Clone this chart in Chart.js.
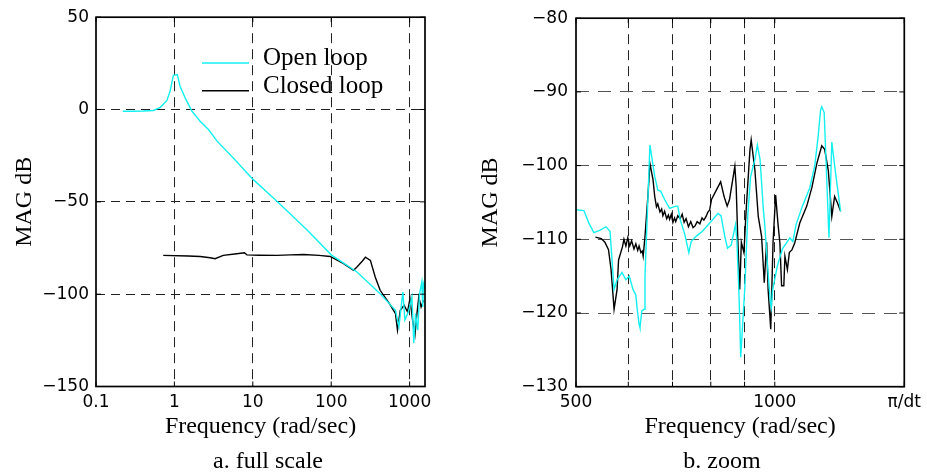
<!DOCTYPE html>
<html>
<head>
<meta charset="utf-8">
<title>Open / closed loop magnitude</title>
<script src="https://cdn.jsdelivr.net/npm/chart.js@4/dist/chart.umd.min.js"></script>
<style>
    body { margin: 0; background: #fff; }
    .panel { position: absolute; top: 0; height: 476px; }
    #left { left: 0; width: 450px; }
    #right { left: 450px; width: 477px; }
</style>
</head>
<body>
<div class="panel" id="left"><canvas id="fullChart"></canvas></div>
<div class="panel" id="right"><canvas id="zoomChart"></canvas></div>
<script>
// sample time 0.002 s -> Nyquist at pi/dt rad/sec
const PI_DT = Math.PI / 0.002;

// a. full scale
const fullOpenFreq = [0.22, 0.3, 0.4, 0.54, 0.66, 0.8, 0.88, 0.97, 1.09, 1.18, 1.37, 1.67, 2.13, 2.72, 3.48, 6, 10, 20, 50, 100, 213, 421, 628, 660, 730, 820, 870, 980, 1070, 1130, 1190, 1270, 1340, 1430, 1470, 1500, 1560];
const fullOpenMag = [-0.9, -0.9, -0.8, -0.5, 1.2, 4.8, 9.9, 18.5, 18.9, 12.6, 6.3, -0.9, -6.3, -10.8, -17, -27.5, -37.7, -49.4, -65.5, -78.7, -88, -99.7, -107.8, -108.7, -117.7, -98.8, -114, -108.7, -101.5, -126.6, -110.5, -119.5, -99.7, -93.4, -106.9, -94.3, -97];
const fullClosedFreq = [0.72, 1.5, 2.13, 2.86, 3.3, 4.2, 6.25, 7.8, 8.4, 12, 20.3, 30, 44.5, 70, 97, 144, 193, 213, 250, 273, 316, 364, 421, 550, 660, 700, 760, 850, 940, 1010, 1090, 1170, 1240, 1310, 1400, 1500];
const fullClosedMag = [-79, -79.3, -79.6, -80.3, -80.8, -79, -78.1, -77.6, -78.7, -78.9, -79, -78.7, -78.5, -79, -79.6, -83.5, -87.1, -85.3, -82, -80, -81.7, -90.7, -97.9, -105, -110.5, -119.5, -108.7, -106, -109.6, -102.4, -114, -122, -110.5, -101.5, -106.9, -103.3];

// b. zoom
const zoomOpenFreq = [500, 514, 523, 532, 543, 555, 563, 571, 577, 587, 595, 602, 610, 616, 619, 623, 625, 629, 634, 636, 647, 658, 665, 672, 681, 693, 708, 713, 719, 731, 741, 747, 760, 777, 797, 820, 829, 840, 848, 859, 872, 876, 883, 888, 901, 910, 919, 933, 941, 950, 961, 966, 976, 985, 988, 992, 1009, 1027, 1054, 1065, 1077, 1101, 1130, 1150, 1163, 1173, 1178, 1188, 1208, 1220, 1238, 1258];
const zoomOpenMag = [-106, -106.1, -107.8, -109.1, -108.8, -108.3, -108.9, -116.8, -115.5, -114.5, -115.5, -115, -116.8, -117.6, -119.5, -121.5, -122, -119.7, -119.5, -115, -97.2, -101.5, -103.3, -103.5, -104.6, -105.8, -105.5, -105.5, -107.3, -109.4, -111.8, -110.3, -109.6, -108.9, -107.8, -106.5, -106.8, -109.6, -111.2, -110.8, -108, -110, -118, -126, -116.4, -106.9, -101.5, -99.2, -97.2, -99.2, -106, -108.2, -114.1, -118.6, -119.3, -117, -113.6, -111.3, -109.8, -110.3, -108, -105.5, -103, -99.9, -96.1, -92.5, -92, -92.8, -109.8, -96.8, -101.5, -106.2];
const zoomClosedFreq = [535, 546, 553, 560, 565, 571, 577, 580, 588, 591, 595, 599, 603, 607, 612, 616, 620, 623, 627, 630, 632, 636, 643, 647, 654, 658, 662, 665, 670, 674, 677, 681, 686, 690, 693, 697, 701, 705, 708, 713, 719, 724, 729, 734, 740, 746, 752, 757, 763, 770, 776, 781, 787, 792, 797, 802, 816, 828, 838, 847, 854, 870, 874, 879, 885, 890, 898, 905, 917, 921, 933, 944, 955, 964, 972, 977, 983, 986, 994, 1003, 1011, 1018, 1024, 1032, 1036, 1045, 1052, 1062, 1072, 1091, 1118, 1138, 1158, 1178, 1190, 1205, 1220, 1232, 1245, 1258];
const zoomClosedMag = [-109.7, -109.9, -110.4, -111.4, -114.1, -119.5, -116.8, -112.8, -111, -110, -110.9, -109.8, -110.9, -110.2, -111.3, -110.6, -111.5, -110.9, -111.8, -111.6, -112.3, -109.6, -103.7, -99.7, -101.9, -104.2, -105.6, -105.2, -106.3, -105.9, -106.8, -106.2, -107.2, -106.7, -107.3, -106.6, -107.7, -107.1, -107.6, -106.8, -107.2, -106.6, -107.7, -107.2, -108.3, -107.6, -108.4, -108.2, -107.6, -107.9, -107.1, -107.4, -106.9, -106.3, -106, -104.6, -103.3, -102.2, -104.2, -105.5, -104.6, -100.1, -102.8, -110, -116.8, -110.4, -111.8, -106, -97.9, -96.5, -100.6, -106.9, -109.6, -115.9, -110.4, -116.8, -120.4, -122.2, -110.4, -104, -107.8, -110.5, -116.3, -116.3, -112.3, -114.1, -111.8, -111.4, -110.5, -107.8, -105.5, -103, -99.7, -97.3, -97.8, -100.6, -106.9, -104.2, -105.1, -106.2];

// ticks
const fullXTicks = [0.1, 1, 10, 100, 1000];
const fullXLabels = ['0.1', '1', '10', '100', '1000'];
const fullXGrid = [1, 10, 100, 1000];
const fullYTicks = [50, 0, -50, -100, -150];
const fullYGrid = [0, -50, -100];

const zoomXTicks = [500, 600, 700, 800, 900, 1000, PI_DT];
const zoomXLabels = ['500', '', '', '', '', '1000', 'π/dt'];
const zoomXGrid = [600, 700, 800, 900, 1000];
const zoomYTicks = [-80, -90, -100, -110, -120, -130];
const zoomYGrid = [-90, -100, -110, -120];

const OPEN_COLOR = '#14f0f0';
const CLOSED_COLOR = '#000000';
const tickFont = { family: 'DejaVu Sans', size: 17 };
const serifFont = { family: 'Liberation Serif', size: 24, weight: 'normal' };

function toPoints(freq, mag) {
    return freq.map((f, i) => ({ x: f, y: mag[i] }));
}

function magLabel(v) {
    return v < 0 ? '\u2212' + Math.abs(v) : String(v);
}

function fixedTicks(values) {
    return scale => { scale.ticks = values.map(v => ({ value: v })); };
}

// plot frame on all four sides plus short inward tick marks
const framePlugin = {
    id: 'frame',
    afterDatasetsDraw(chart) {
        const { ctx, chartArea: a, scales } = chart;
        ctx.save();
        ctx.strokeStyle = '#000';
        ctx.lineWidth = 1;
        ctx.beginPath();
        scales.x.ticks.forEach(t => {
            const px = scales.x.getPixelForValue(t.value);
            ctx.moveTo(px, a.bottom); ctx.lineTo(px, a.bottom - 5);
            ctx.moveTo(px, a.top); ctx.lineTo(px, a.top + 5);
        });
        scales.y.ticks.forEach(t => {
            const py = scales.y.getPixelForValue(t.value);
            ctx.moveTo(a.left, py); ctx.lineTo(a.left + 5, py);
            ctx.moveTo(a.right, py); ctx.lineTo(a.right - 5, py);
        });
        ctx.stroke();
        ctx.lineWidth = 1.7;
        ctx.strokeRect(a.left, a.top, a.right - a.left, a.bottom - a.top);
        ctx.restore();
    }
};

// panel caption under the axis title
const captionPlugin = {
    id: 'caption',
    afterDraw(chart, args, opts) {
        if (!opts.text) return;
        const ctx = chart.ctx;
        ctx.save();
        ctx.font = '24px "Liberation Serif"';
        ctx.fillStyle = '#000';
        ctx.textAlign = 'center';
        ctx.textBaseline = 'alphabetic';
        ctx.fillText(opts.text, opts.x, opts.y);
        ctx.restore();
    }
};

// legend inside the plot area, no box
const insideLegendPlugin = {
    id: 'insideLegend',
    afterDraw(chart, args, opts) {
        if (!opts.show) return;
        const ctx = chart.ctx;
        ctx.save();
        ctx.font = '25px "Liberation Serif"';
        ctx.fillStyle = '#000';
        ctx.textBaseline = 'alphabetic';
        chart.data.datasets.forEach((ds, i) => {
            const y = opts.y + i * opts.spacing;
            ctx.strokeStyle = ds.borderColor;
            ctx.lineWidth = 1.4;
            ctx.beginPath();
            ctx.moveTo(opts.x, y);
            ctx.lineTo(opts.x + opts.length, y);
            ctx.stroke();
            ctx.fillText(ds.label, opts.x + opts.length + opts.gap, y + 2);
        });
        ctx.restore();
    }
};

function panelOptions(p) {
    return {
        responsive: true,
        maintainAspectRatio: false,
        animation: false,
        layout: { padding: { top: p.top, right: p.right, bottom: 31, left: 0 } },
        plugins: {
            legend: { display: false },
            tooltip: { enabled: false },
            caption: { text: p.caption, x: p.captionX, y: 468 },
            insideLegend: p.legend
        },
        scales: {
            x: {
                type: 'logarithmic',
                min: p.xMin,
                max: PI_DT,
                afterBuildTicks: fixedTicks(p.xTicks),
                afterFit: s => { s.height = p.xHeight; },
                ticks: {
                    autoSkip: false,
                    maxRotation: 0,
                    padding: 6,
                    color: '#000',
                    font: tickFont,
                    callback: v => p.xLabels[p.xTicks.indexOf(v)] ?? ''
                },
                grid: {
                    drawTicks: false,
                    lineWidth: 1,
                    color: c => (c.tick && p.xGrid.includes(c.tick.value)) ? '#222' : 'rgba(0,0,0,0)'
                },
                border: { display: false, dash: [10, 6] },
                title: {
                    display: true,
                    text: 'Frequency (rad/sec)',
                    color: '#000',
                    font: serifFont,
                    padding: { top: 0, bottom: 4 }
                }
            },
            y: {
                min: p.yMin,
                max: p.yMax,
                afterBuildTicks: fixedTicks(p.yTicks),
                afterFit: s => { s.width = p.yWidth; },
                ticks: {
                    padding: p.yPad,
                    color: '#000',
                    font: tickFont,
                    callback: v => magLabel(v)
                },
                grid: {
                    drawTicks: false,
                    lineWidth: 1,
                    color: c => (c.tick && p.yGrid.includes(c.tick.value)) ? p.yGridColor : 'rgba(0,0,0,0)'
                },
                border: { display: false, dash: p.yDash },
                title: {
                    display: true,
                    text: 'MAG dB',
                    color: '#000',
                    font: serifFont,
                    padding: { top: p.yTitlePad, bottom: 0 }
                }
            }
        }
    };
}

function datasets(openFreq, openMag, closedFreq, closedMag) {
    return [
        {
            label: 'Open loop',
            data: toPoints(openFreq, openMag),
            borderColor: OPEN_COLOR,
            borderWidth: 1.4,
            pointRadius: 0,
            tension: 0
        },
        {
            label: 'Closed loop',
            data: toPoints(closedFreq, closedMag),
            borderColor: CLOSED_COLOR,
            borderWidth: 1.4,
            pointRadius: 0,
            tension: 0
        }
    ];
}

new Chart(document.getElementById('fullChart'), {
    type: 'line',
    data: { datasets: datasets(fullOpenFreq, fullOpenMag, fullClosedFreq, fullClosedMag) },
    options: panelOptions({
        top: 16, right: 25, xHeight: 58.5, yWidth: 96, yPad: 7, yTitlePad: 10.6,
        xMin: 0.1, xTicks: fullXTicks, xLabels: fullXLabels, xGrid: fullXGrid,
        yMin: -150, yMax: 50, yTicks: fullYTicks, yGrid: fullYGrid,
        yDash: [9, 6], yGridColor: '#222',
        caption: 'a. full scale', captionX: 268,
        legend: { show: true, x: 202, y: 63, length: 47, gap: 14, spacing: 27.7 }
    }),
    plugins: [framePlugin, captionPlugin, insideLegendPlugin]
});

new Chart(document.getElementById('zoomChart'), {
    type: 'line',
    data: { datasets: datasets(zoomOpenFreq, zoomOpenMag, zoomClosedFreq, zoomClosedMag) },
    options: panelOptions({
        top: 17.7, right: 22, xHeight: 58.3, yWidth: 126, yPad: 8, yTitlePad: 26.6,
        xMin: 500, xTicks: zoomXTicks, xLabels: zoomXLabels, xGrid: zoomXGrid,
        yMin: -130, yMax: -80, yTicks: zoomYTicks, yGrid: zoomYGrid,
        yDash: [13, 9], yGridColor: '#555',
        caption: 'b. zoom', captionX: 272,
        legend: { show: false }
    }),
    plugins: [framePlugin, captionPlugin, insideLegendPlugin]
});
</script>
</body>
</html>
